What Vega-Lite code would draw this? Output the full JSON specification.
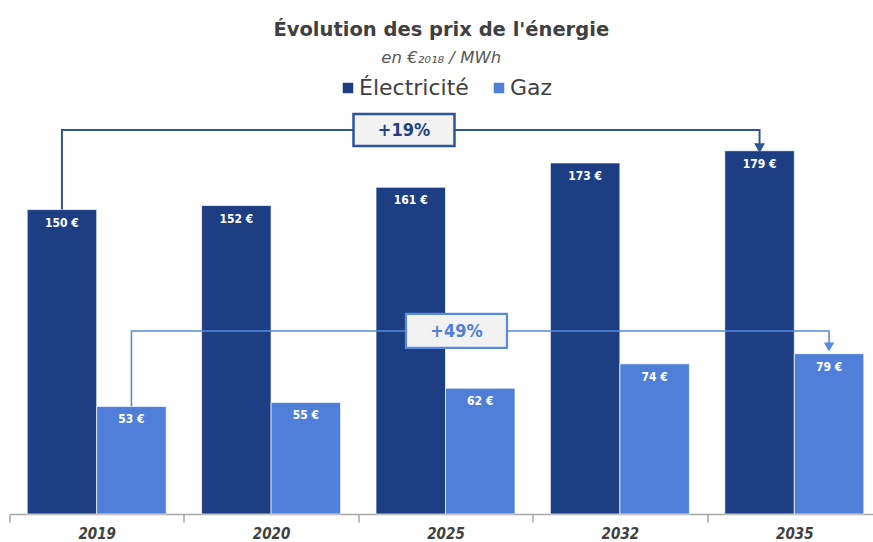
{
  "$schema": "https://vega.github.io/schema/vega-lite/v6.json",
  "width": 863.5,
  "height": 414,
  "autosize": {"type": "none"},
  "padding": {"left": 9.5, "top": 100, "right": 0, "bottom": 28},
  "background": "white",
  "title": {
    "text": "Évolution des prix de l'énergie",
    "subtitle": "en €₂₀₁₈ / MWh",
    "anchor": "middle",
    "offset": 10,
    "font": "DejaVu Sans",
    "fontSize": 19.5,
    "fontWeight": "bold",
    "color": "#404040",
    "subtitleFont": "DejaVu Sans",
    "subtitleFontSize": 16.5,
    "subtitleFontStyle": "italic",
    "subtitleColor": "#595959",
    "subtitlePadding": 9
  },
  "config": {
    "view": {"stroke": null},
    "axis": {
      "title": null,
      "grid": false,
      "tickBand": "extent",
      "domainColor": "#a6a6a6",
      "domainWidth": 1.5,
      "tickColor": "#a6a6a6",
      "tickWidth": 1.5,
      "tickSize": 8,
      "labelFont": "DejaVu Sans Condensed",
      "labelFontSize": 15,
      "labelFontWeight": "bold",
      "labelFontStyle": "italic",
      "labelColor": "#404040",
      "labelPadding": 4,
      "labelAngle": 0
    }
  },
  "datasets": {
    "prices": [
      {"year": "2019", "series": "Électricité", "v": 150},
      {"year": "2019", "series": "Gaz", "v": 53},
      {"year": "2020", "series": "Électricité", "v": 152},
      {"year": "2020", "series": "Gaz", "v": 55},
      {"year": "2025", "series": "Électricité", "v": 161},
      {"year": "2025", "series": "Gaz", "v": 62},
      {"year": "2032", "series": "Électricité", "v": 173},
      {"year": "2032", "series": "Gaz", "v": 74},
      {"year": "2035", "series": "Électricité", "v": 179},
      {"year": "2035", "series": "Gaz", "v": 79}
    ],
    "brackets": [
      {"year": "2019", "series": "Électricité", "v": 150, "o": 1},
      {"year": "2019", "series": "Électricité", "v": 189.2, "o": 2},
      {"year": "2035", "series": "Électricité", "v": 189.2, "o": 3},
      {"year": "2035", "series": "Électricité", "v": 182, "o": 4},
      {"year": "2019", "series": "Gaz", "v": 53, "o": 1},
      {"year": "2019", "series": "Gaz", "v": 90.2, "o": 2},
      {"year": "2035", "series": "Gaz", "v": 90.2, "o": 3},
      {"year": "2035", "series": "Gaz", "v": 84, "o": 4}
    ],
    "arrows": [
      {"year": "2035", "series": "Électricité", "v": 180.3},
      {"year": "2035", "series": "Gaz", "v": 82.3}
    ],
    "boxes": [
      {"year": "2025", "series": "Électricité", "v": 189.2, "label": "+19%"},
      {"year": "2025", "series": "Gaz", "v": 90.2, "label": "+49%"}
    ]
  },
  "layer": [
    {
      "data": {"name": "prices"},
      "mark": {"type": "bar", "stroke": "white", "strokeWidth": 0.7},
      "encoding": {
        "x": {
          "field": "year", "type": "nominal",
          "scale": {"range": [0, 872], "paddingInner": 0, "paddingOuter": 0}
        },
        "xOffset": {
          "field": "series", "type": "nominal",
          "scale": {"domain": ["Électricité", "Gaz"], "paddingInner": 0, "paddingOuter": 0.2547}
        },
        "y": {"field": "v", "type": "quantitative", "scale": {"domain": [0, 204], "nice": false, "zero": true}, "axis": null},
        "color": {
          "field": "series", "type": "nominal",
          "scale": {"domain": ["Électricité", "Gaz"], "range": ["#1d3e82", "#4f7fd9"]},
          "legend": {
            "orient": "none",
            "legendX": 327.5,
            "legendY": -23,
            "direction": "horizontal",
            "title": null,
            "padding": 0,
            "symbolType": "square",
            "symbolSize": 110,
            "symbolStrokeWidth": 0,
            "labelFont": "DejaVu Sans",
            "labelFontSize": 22,
            "labelColor": "#404040",
            "labelOffset": 0,
            "columnPadding": 19
          }
        }
      }
    },
    {
      "data": {"name": "prices"},
      "transform": [{"calculate": "format(datum.v, 'd') + ' €'", "as": "lbl"}],
      "mark": {"type": "text", "baseline": "middle", "dy": 13, "color": "white", "font": "DejaVu Sans Condensed", "fontWeight": "bold", "fontSize": 12},
      "encoding": {
        "x": {"field": "year", "type": "nominal"},
        "xOffset": {"field": "series", "type": "nominal"},
        "y": {"field": "v", "type": "quantitative"},
        "text": {"field": "lbl"}
      }
    },
    {
      "data": {"name": "brackets"},
      "transform": [{"filter": "datum.series === 'Électricité'"}],
      "mark": {"type": "line", "color": "#2e5597", "strokeWidth": 2},
      "encoding": {
        "x": {"field": "year", "type": "nominal"},
        "xOffset": {"field": "series", "type": "nominal"},
        "y": {"field": "v", "type": "quantitative"},
        "order": {"field": "o"}
      }
    },
    {
      "data": {"name": "brackets"},
      "transform": [{"filter": "datum.series === 'Gaz'"}],
      "mark": {"type": "line", "color": "#5a8ae0", "strokeWidth": 1.6},
      "encoding": {
        "x": {"field": "year", "type": "nominal"},
        "xOffset": {"field": "series", "type": "nominal"},
        "y": {"field": "v", "type": "quantitative"},
        "order": {"field": "o"}
      }
    },
    {
      "data": {"name": "arrows"},
      "transform": [{"filter": "datum.series === 'Électricité'"}],
      "mark": {"type": "point", "shape": "triangle-down", "size": 120, "filled": true, "color": "#2e5597", "opacity": 1},
      "encoding": {
        "x": {"field": "year", "type": "nominal"},
        "xOffset": {"field": "series", "type": "nominal"},
        "y": {"field": "v", "type": "quantitative"}
      }
    },
    {
      "data": {"name": "arrows"},
      "transform": [{"filter": "datum.series === 'Gaz'"}],
      "mark": {"type": "point", "shape": "triangle-down", "size": 110, "filled": true, "color": "#5a8ae0", "opacity": 1},
      "encoding": {
        "x": {"field": "year", "type": "nominal"},
        "xOffset": {"field": "series", "type": "nominal"},
        "y": {"field": "v", "type": "quantitative"}
      }
    },
    {
      "data": {"name": "boxes"},
      "transform": [{"filter": "datum.series === 'Électricité'"}],
      "mark": {"type": "point", "shape": "M-1,-0.317L1,-0.317L1,0.317L-1,0.317Z", "size": 10201, "filled": true, "fill": "#f2f2f2", "stroke": "#2e5597", "strokeWidth": 2.5, "opacity": 1, "xOffset": -41.5},
      "encoding": {
        "x": {"field": "year", "type": "nominal"},
        "y": {"field": "v", "type": "quantitative"}
      }
    },
    {
      "data": {"name": "boxes"},
      "transform": [{"filter": "datum.series === 'Électricité'"}],
      "mark": {"type": "text", "baseline": "middle", "align": "center", "dx": -41.5, "dy": 1, "color": "#1f3f82", "font": "DejaVu Sans Condensed", "fontWeight": "bold", "fontSize": 18},
      "encoding": {
        "x": {"field": "year", "type": "nominal"},
        "y": {"field": "v", "type": "quantitative"},
        "text": {"field": "label"}
      }
    },
    {
      "data": {"name": "boxes"},
      "transform": [{"filter": "datum.series === 'Gaz'"}],
      "mark": {"type": "point", "shape": "M-1,-0.337L1,-0.337L1,0.337L-1,0.337Z", "size": 10201, "filled": true, "fill": "#f2f2f2", "stroke": "#5a8ae0", "strokeWidth": 2.2, "opacity": 1, "xOffset": 11},
      "encoding": {
        "x": {"field": "year", "type": "nominal"},
        "y": {"field": "v", "type": "quantitative"}
      }
    },
    {
      "data": {"name": "boxes"},
      "transform": [{"filter": "datum.series === 'Gaz'"}],
      "mark": {"type": "text", "baseline": "middle", "align": "center", "dx": 11, "dy": 1, "color": "#4f7fd9", "font": "DejaVu Sans Condensed", "fontWeight": "bold", "fontSize": 18},
      "encoding": {
        "x": {"field": "year", "type": "nominal"},
        "y": {"field": "v", "type": "quantitative"},
        "text": {"field": "label"}
      }
    }
  ]
}
